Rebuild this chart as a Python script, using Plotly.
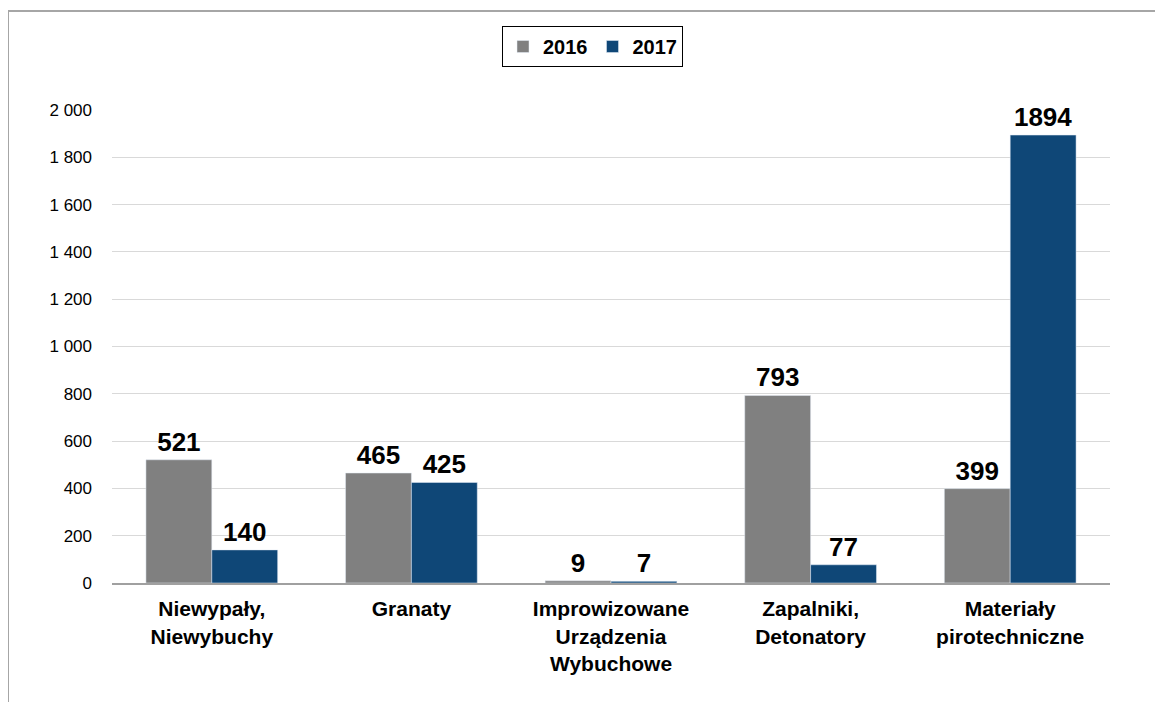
import plotly.graph_objects as go

categories = ["Niewypały,<br>Niewybuchy", "Granaty", "Improwizowane<br>Urządzenia<br>Wybuchowe",
              "Zapalniki,<br>Detonatory", "Materiały<br>pirotechniczne"]
values_2016 = [521, 465, 9, 793, 399]
values_2017 = [140, 425, 7, 77, 1894]
tick_vals = [0, 200, 400, 600, 800, 1000, 1200, 1400, 1600, 1800, 2000]

FONT = "Liberation Sans, Arial, sans-serif"

fig = go.Figure()
fig.add_trace(go.Bar(
    name="2016", x=categories, y=values_2016, marker_color="#808080",
    text=values_2016, texttemplate="<b>%{text}</b>", textposition="outside",
    textfont=dict(family=FONT, size=26, color="#000000"), cliponaxis=False,
))
fig.add_trace(go.Bar(
    name="2017", x=categories, y=values_2017, marker_color="#0F4777",
    text=values_2017, texttemplate="<b>%{text}</b>", textposition="outside",
    textfont=dict(family=FONT, size=26, color="#000000"), cliponaxis=False,
))

# page offset of 8px (body margin)
OFF = 8
W, H = 1155, 694
L, T = 112 - OFF, 110 - OFF
R = W - (1110 - OFF)
B = H - (583 - OFF)
pw, ph = W - L - R, H - T - B

def px(x):
    return (x - OFF - L) / pw

def py(y):
    return (H - B - (y - OFF)) / ph

fig.update_layout(
    width=W, height=H,
    margin=dict(l=L, r=R, t=T, b=B),
    paper_bgcolor="white", plot_bgcolor="white",
    barmode="group", bargap=0.34, bargroupgap=0,
    separators=". ",
    font=dict(family=FONT, color="#000000"),
    legend=dict(
        orientation="h", x=px(502), xanchor="left", y=py(26), yanchor="top",
        bordercolor="#000000", borderwidth=1, bgcolor="white",
        font=dict(family=FONT, size=20, color="#000000", weight="bold"),
        itemwidth=30, traceorder="normal",
    ),
    xaxis=dict(
        tickfont=dict(family=FONT, size=21, color="#000000", weight="bold"),
        showline=True, linecolor="#A0A0A0", linewidth=2,
        ticks="", showgrid=False, ticklabelstandoff=6,
    ),
    yaxis=dict(
        range=[0, 2000], tickvals=tick_vals, tickformat=",d",
        tickfont=dict(family=FONT, size=17, color="#000000"),
        showgrid=True, gridcolor="#D9D9D9", gridwidth=1,
        zeroline=False, showline=False, ticks="", ticklen=0,
        ticklabelstandoff=19,
    ),
    shapes=[
        dict(type="line", xref="paper", yref="paper", x0=px(8), x1=px(8), y0=py(11), y1=py(OFF + H),
             line=dict(color="#A6A6A6", width=2)),
        dict(type="line", xref="paper", yref="paper", x0=px(8), x1=px(OFF + W), y0=py(11), y1=py(11),
             line=dict(color="#A6A6A6", width=2)),
    ],
)

fig.write_html("out.html")
